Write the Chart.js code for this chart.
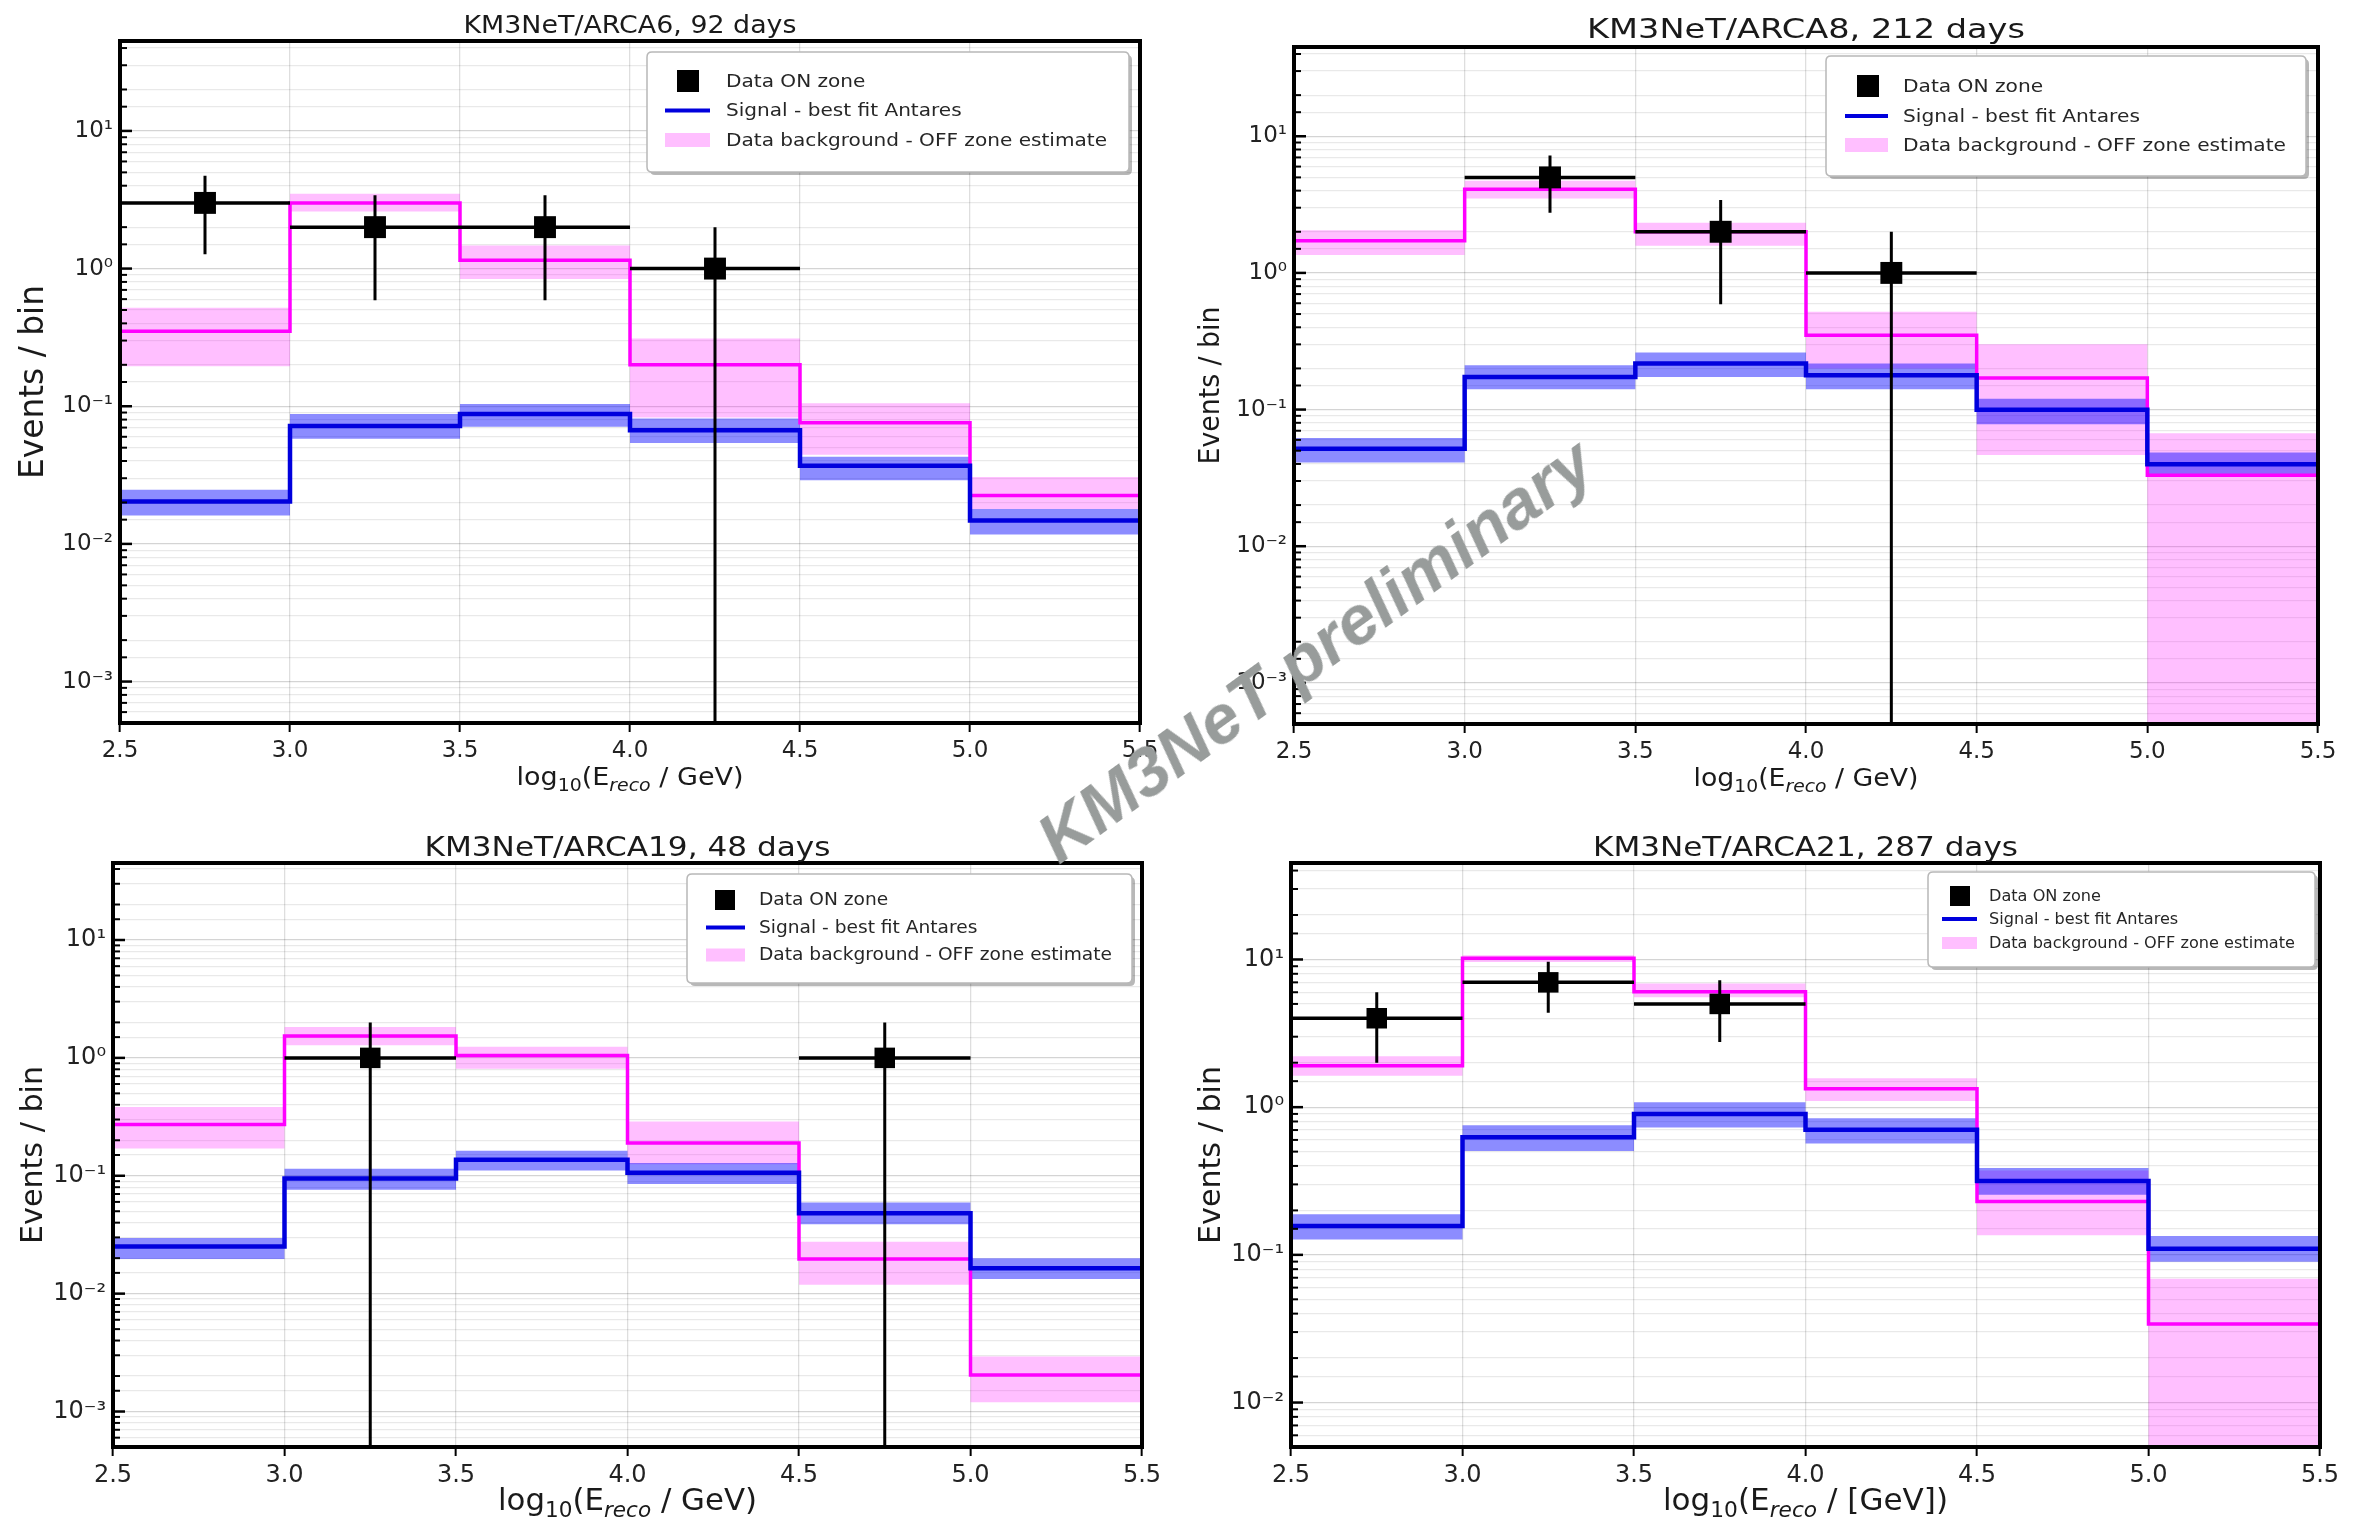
<!DOCTYPE html>
<html><head><meta charset="utf-8">
<script src="https://cdn.jsdelivr.net/npm/chart.js@4.4.1/dist/chart.umd.min.js"></script>
<style>
html,body{margin:0;padding:0;background:#fff;}
#wrap{position:relative;width:2356px;height:1523px;overflow:hidden;background:#fff;}
#wrap canvas{position:absolute;left:0;top:0;}
#wm{position:absolute;left:1315px;top:650px;transform:translate(-50%,-50%) rotate(-36deg);font:italic bold 69px "Liberation Sans", Arial, sans-serif;color:#989c9b;white-space:nowrap;pointer-events:none;z-index:10;}
</style></head><body>
<div id="wrap">
<canvas id="c1" width="2356" height="1523"></canvas>
<canvas id="c2" width="2356" height="1523"></canvas>
<canvas id="c3" width="2356" height="1523"></canvas>
<canvas id="c4" width="2356" height="1523"></canvas>
<div id="wm">KM3NeT preliminary</div>
</div>
<script>
// ---------------- DATA ----------------
const EDGES = [2.5, 3.0, 3.5, 4.0, 4.5, 5.0, 5.5];
const X_TICKS = [2.5, 3.0, 3.5, 4.0, 4.5, 5.0, 5.5];
const TITLES = ['KM3NeT/ARCA6, 92 days', 'KM3NeT/ARCA8, 212 days', 'KM3NeT/ARCA19, 48 days', 'KM3NeT/ARCA21, 287 days'];
const LEGEND_LABELS = ['Data ON zone', 'Signal - best fit Antares', 'Data background - OFF zone estimate'];
const FLOOR = 1e-9; // below axis (error bar / band reaching zero)

// ARCA6
const bg1   = [0.35, 3.0, 1.15, 0.20, 0.076, 0.0225];
const bg1Lo = [0.195, 2.6, 0.84, 0.083, 0.0445, 0.0179];
const bg1Hi = [0.52, 3.5, 1.47, 0.31, 0.105, 0.0306];
const sig1   = [0.0203, 0.072, 0.088, 0.067, 0.037, 0.0148];
const sig1Lo = [0.0161, 0.058, 0.071, 0.054, 0.029, 0.0117];
const sig1Hi = [0.0247, 0.088, 0.104, 0.0815, 0.043, 0.0179];
const on1X = [2.75, 3.25, 3.75, 4.25];
const on1  = [3, 2, 2, 1];
const on1Err = [1.73, 1.41, 1.41, 1.0];

// ARCA8
const bg2   = [1.72, 4.09, 2.0, 0.35, 0.17, 0.033];
const bg2Lo = [1.35, 3.5, 1.58, 0.2, 0.0466, FLOOR];
const bg2Hi = [2.05, 4.73, 2.33, 0.52, 0.30, 0.067];
const sig2   = [0.0516, 0.173, 0.217, 0.178, 0.0995, 0.0398];
const sig2Lo = [0.041, 0.141, 0.173, 0.141, 0.078, 0.0335];
const sig2Hi = [0.062, 0.211, 0.262, 0.217, 0.12, 0.0486];
const on2X = [3.25, 3.75, 4.25];
const on2  = [5, 2, 1];
const on2Err = [2.24, 1.41, 1.0];

// ARCA19
const bg3   = [0.272, 1.53, 1.05, 0.19, 0.0197, 0.00204];
const bg3Lo = [0.17, 1.28, 0.81, 0.125, 0.0119, 0.0012];
const bg3Hi = [0.384, 1.83, 1.24, 0.288, 0.0275, 0.00293];
const sig3   = [0.0251, 0.0947, 0.137, 0.106, 0.048, 0.0164];
const sig3Lo = [0.0197, 0.0762, 0.111, 0.085, 0.0387, 0.0133];
const sig3Hi = [0.0296, 0.1145, 0.163, 0.128, 0.0593, 0.020];
const on3X = [3.25, 4.75];
const on3  = [1, 1];
const on3Err = [1.0, 1.0];

// ARCA21
const bg4   = [1.91, 10.2, 6.04, 1.33, 0.23, 0.034];
const bg4Lo = [1.63, 9.6, 5.54, 1.1, 0.136, FLOOR];
const bg4Hi = [2.21, 10.7, 6.88, 1.57, 0.373, 0.0688];
const sig4   = [0.157, 0.626, 0.898, 0.703, 0.316, 0.11];
const sig4Lo = [0.127, 0.505, 0.729, 0.567, 0.255, 0.0898];
const sig4Hi = [0.188, 0.755, 1.08, 0.841, 0.387, 0.134];
const on4X = [2.75, 3.25, 3.75];
const on4  = [4, 7, 5];
const on4Err = [2.0, 2.65, 2.24];

// ---------------- STYLE ----------------
const SANS = '"DejaVu Sans", "Liberation Sans", sans-serif';
const COL_BG_LINE = '#ff00ff';
const COL_BG_BAND = 'rgba(255,0,255,0.25)';
const COL_SIG_LINE = '#0000dd';
const COL_SIG_BAND = 'rgba(0,0,255,0.45)';
const W = 2356, H = 1523, YW = 100, XH = 60;
const HALF = (EDGES[1] - EDGES[0]) / 2;

function steps(vals) { return EDGES.map((x, i) => ({x: x, y: vals[Math.min(i, vals.length - 1)]})); }
function hbars(xs, ys) { const o = []; xs.forEach((c, i) => { o.push({x: c - HALF, y: ys[i]}, {x: c + HALF, y: ys[i]}, {x: c + HALF, y: null}); }); return o; }
function vbars(xs, ys, es) { const o = []; xs.forEach((c, i) => { const lo = ys[i] - es[i]; o.push({x: c, y: lo > 0 ? lo : FLOOR}, {x: c, y: ys[i] + es[i]}, {x: c, y: null}); }); return o; }
function isDecade(v) { const l = Math.log10(v); return Math.abs(l - Math.round(l)) < 1e-6; }
const SUP = {'-': '\u207B', '0': '\u2070', '1': '\u00B9', '2': '\u00B2', '3': '\u00B3', '4': '\u2074'};
function supLabel(v) { const e = String(Math.round(Math.log10(v))); return '10' + e.split('').map(ch => SUP[ch]).join(''); }

const PANELS = [
  {id: 'c1', area: [120, 41, 1140, 723], min: 5e-4, max: 45,
   bg: bg1, bgLo: bg1Lo, bgHi: bg1Hi, sig: sig1, sigLo: sig1Lo, sigHi: sig1Hi, onX: on1X, on: on1, onErr: on1Err,
   title: {t: TITLES[0], base: 33, w: 333, size: 25}, ylab: {cx: 34, size: 33, len: 194},
   xlab: {base: 785, w: 227, size: 25, unit: 'GeV'}, xtick: 23, ytick: 23, mr: 15.5,
   leg: {x0: 647, y0: 52, x1: 1129, y1: 172, mx: 688, ms: 22, lx0: 665, lx1: 710, ph: 14, tx: 726, rows: [81, 110.5, 140], size: 18.5, w3: 381}},
  {id: 'c2', area: [1294, 47, 2318, 724], min: 5e-4, max: 45,
   bg: bg2, bgLo: bg2Lo, bgHi: bg2Hi, sig: sig2, sigLo: sig2Lo, sigHi: sig2Hi, onX: on2X, on: on2, onErr: on2Err,
   title: {t: TITLES[1], base: 38, w: 438, size: 26}, ylab: {cx: 1212, size: 28, len: 158},
   xlab: {base: 786, w: 225, size: 25, unit: 'GeV'}, xtick: 23, ytick: 23, mr: 15.5,
   leg: {x0: 1826, y0: 56, x1: 2306, y1: 176, mx: 1868, ms: 22, lx0: 1845, lx1: 1888, ph: 14, tx: 1903, rows: [86, 116, 145], size: 18.5, w3: 383}},
  {id: 'c3', area: [113, 863, 1142, 1447], min: 5e-4, max: 45,
   bg: bg3, bgLo: bg3Lo, bgHi: bg3Hi, sig: sig3, sigLo: sig3Lo, sigHi: sig3Hi, onX: on3X, on: on3, onErr: on3Err,
   title: {t: TITLES[2], base: 856, w: 406, size: 27}, ylab: {cx: 34, size: 30, len: 178},
   xlab: {base: 1510, w: 259, size: 30, unit: 'GeV'}, xtick: 24, ytick: 24, mr: 14.5,
   leg: {x0: 687, y0: 874, x1: 1132, y1: 983, mx: 725, ms: 20, lx0: 706, lx1: 745, ph: 13, tx: 759, rows: [900, 927.5, 955], size: 17, w3: 353}},
  {id: 'c4', area: [1291, 863, 2320, 1447], min: 5e-3, max: 45,
   bg: bg4, bgLo: bg4Lo, bgHi: bg4Hi, sig: sig4, sigLo: sig4Lo, sigHi: sig4Hi, onX: on4X, on: on4, onErr: on4Err,
   title: {t: TITLES[3], base: 856, w: 425, size: 27}, ylab: {cx: 1212, size: 30, len: 178},
   xlab: {base: 1510, w: 285, size: 30, unit: '[GeV]'}, xtick: 24, ytick: 24, mr: 14.5,
   leg: {x0: 1928, y0: 872, x1: 2315, y1: 967, mx: 1960, ms: 20, lx0: 1942, lx1: 1977, ph: 12, tx: 1989, rows: [896, 919, 943], size: 15, w3: 306}}
];

// ---------------- DRAW HELPERS ----------------
function drawFit(ctx, txt, x, y, w, align) {
  const m = ctx.measureText(txt).width;
  ctx.save(); ctx.translate(x, y); ctx.scale(w / m, 1);
  ctx.textAlign = align; ctx.fillText(txt, 0, 0); ctx.restore();
}
function roundRect(ctx, x, y, w, h, r) {
  ctx.beginPath();
  ctx.moveTo(x + r, y); ctx.lineTo(x + w - r, y); ctx.quadraticCurveTo(x + w, y, x + w, y + r);
  ctx.lineTo(x + w, y + h - r); ctx.quadraticCurveTo(x + w, y + h, x + w - r, y + h);
  ctx.lineTo(x + r, y + h); ctx.quadraticCurveTo(x, y + h, x, y + h - r);
  ctx.lineTo(x, y + r); ctx.quadraticCurveTo(x, y, x + r, y); ctx.closePath();
}
function drawXLabel(ctx, cx, base, size, w, unit) {
  const parts = [
    {t: 'log', f: size + 'px ' + SANS, dy: 0},
    {t: '10', f: (size * 0.7) + 'px ' + SANS, dy: size * 0.22},
    {t: '(E', f: size + 'px ' + SANS, dy: 0},
    {t: 'reco', f: 'italic ' + (size * 0.7) + 'px ' + SANS, dy: size * 0.22},
    {t: ' / ' + unit + ')', f: size + 'px ' + SANS, dy: 0}
  ];
  let tot = 0;
  parts.forEach(p => { ctx.font = p.f; p.w = ctx.measureText(p.t).width; tot += p.w; });
  ctx.save(); ctx.translate(cx - w / 2, base); ctx.scale(w / tot, 1);
  ctx.textAlign = 'left'; ctx.textBaseline = 'alphabetic';
  let x = 0;
  parts.forEach(p => { ctx.font = p.f; ctx.fillText(p.t, x, p.dy); x += p.w; });
  ctx.restore();
}
function drawLegend(ctx, L) {
  ctx.save();
  ctx.fillStyle = 'rgba(0,0,0,0.28)';
  roundRect(ctx, L.x0 + 3, L.y0 + 3, L.x1 - L.x0, L.y1 - L.y0, 5); ctx.fill();
  ctx.fillStyle = '#ffffff';
  roundRect(ctx, L.x0, L.y0, L.x1 - L.x0, L.y1 - L.y0, 5); ctx.fill();
  ctx.strokeStyle = '#b8b8b8'; ctx.lineWidth = 1.5; ctx.stroke();
  ctx.fillStyle = '#000';
  ctx.fillRect(L.mx - L.ms / 2, L.rows[0] - L.ms / 2, L.ms, L.ms);
  ctx.strokeStyle = COL_SIG_LINE; ctx.lineWidth = 4;
  ctx.beginPath(); ctx.moveTo(L.lx0, L.rows[1]); ctx.lineTo(L.lx1, L.rows[1]); ctx.stroke();
  ctx.fillStyle = COL_BG_BAND;
  ctx.fillRect(L.lx0, L.rows[2] - L.ph / 2, L.lx1 - L.lx0, L.ph);
  ctx.font = L.size + 'px ' + SANS; ctx.fillStyle = '#262626'; ctx.textBaseline = 'middle';
  const s = L.w3 / ctx.measureText(LEGEND_LABELS[2]).width;
  LEGEND_LABELS.forEach((t, i) => {
    ctx.save(); ctx.translate(L.tx, L.rows[i] + 1); ctx.scale(s, 1); ctx.textAlign = 'left'; ctx.fillText(t, 0, 0); ctx.restore();
  });
  ctx.restore();
}

const decoPlugin = {
  id: 'deco',
  afterDraw(chart) {
    const p = chart.options.plugins.deco.panel;
    const ctx = chart.ctx, a = chart.chartArea, ys = chart.scales.y;
    ctx.save();
    // inner y tick marks
    ctx.strokeStyle = '#000';
    ys.ticks.forEach(t => {
      const v = t.value; if (v < ys.min || v > ys.max) return;
      const y = ys.getPixelForValue(v), maj = isDecade(v);
      ctx.lineWidth = maj ? 2.5 : 2;
      ctx.beginPath(); ctx.moveTo(a.left, y); ctx.lineTo(a.left + (maj ? 12 : 7), y); ctx.stroke();
    });
    // frame
    ctx.lineWidth = 4; ctx.strokeStyle = '#000';
    ctx.strokeRect(a.left, a.top, a.right - a.left, a.bottom - a.top);
    // legend
    drawLegend(ctx, p.leg);
    // title
    ctx.fillStyle = '#1a1a1a'; ctx.textBaseline = 'alphabetic';
    ctx.font = p.title.size + 'px ' + SANS;
    drawFit(ctx, p.title.t, (a.left + a.right) / 2, p.title.base, p.title.w, 'center');
    // y label
    ctx.save();
    ctx.translate(p.ylab.cx, (a.top + a.bottom) / 2); ctx.rotate(-Math.PI / 2);
    ctx.font = p.ylab.size + 'px ' + SANS; ctx.textBaseline = 'middle';
    drawFit(ctx, 'Events / bin', 0, 0, p.ylab.len, 'center');
    ctx.restore();
    // x label
    ctx.fillStyle = '#1a1a1a';
    drawXLabel(ctx, (a.left + a.right) / 2, p.xlab.base, p.xlab.size, p.xlab.w, p.xlab.unit);
    ctx.restore();
  }
};

function lineDs(data, color, width) {
  return {data: data, borderColor: color, borderWidth: width, stepped: 'before', pointRadius: 0, pointHoverRadius: 0, fill: false, spanGaps: false};
}
function bandDs(data, fillColor, isHi) {
  return {data: data, borderColor: 'rgba(0,0,0,0)', borderWidth: 0, stepped: 'before', pointRadius: 0, pointHoverRadius: 0,
          fill: isHi ? '-1' : false, backgroundColor: fillColor};
}

PANELS.forEach(p => {
  const a = p.area;
  const datasets = [
    {data: p.onX.map((x, i) => ({x: x, y: p.on[i]})), showLine: false, pointStyle: 'rect', pointRadius: p.mr, pointHoverRadius: p.mr,
     pointBackgroundColor: '#000', pointBorderColor: '#000', pointBorderWidth: 0},
    {data: hbars(p.onX, p.on), borderColor: '#000', borderWidth: 3.5, pointRadius: 0, spanGaps: false, fill: false},
    {data: vbars(p.onX, p.on, p.onErr), borderColor: '#000', borderWidth: 3, pointRadius: 0, spanGaps: false, fill: false},
    lineDs(steps(p.sig), COL_SIG_LINE, 4.5),
    lineDs(steps(p.bg), COL_BG_LINE, 3.5),
    bandDs(steps(p.sigLo), COL_SIG_BAND, false),
    bandDs(steps(p.sigHi), COL_SIG_BAND, true),
    bandDs(steps(p.bgLo), COL_BG_BAND, false),
    bandDs(steps(p.bgHi), COL_BG_BAND, true)
  ];
  new Chart(document.getElementById(p.id), {
    type: 'line',
    data: {datasets: datasets},
    plugins: [decoPlugin],
    options: {
      responsive: false, animation: false, devicePixelRatio: 1, events: [],
      layout: {padding: {left: a[0] - YW, top: a[1], right: W - a[2], bottom: H - a[3] - XH}},
      plugins: {legend: {display: false}, tooltip: {enabled: false}, title: {display: false}, deco: {panel: p}},
      scales: {
        x: {type: 'linear', min: X_TICKS[0], max: X_TICKS[X_TICKS.length - 1],
            afterFit(s) { s.height = XH; }, border: {display: false},
            afterBuildTicks(s) { s.ticks = X_TICKS.map(v => ({value: v})); },
            grid: {color: 'rgba(0,0,0,0.13)', lineWidth: 1.3, drawTicks: true, tickLength: 9, tickColor: '#000', tickWidth: 2},
            ticks: {autoSkip: false, maxRotation: 0, padding: 5, color: '#222', font: {family: SANS, size: p.xtick},
                    callback: v => Number(v).toFixed(1)}},
        y: {type: 'logarithmic', min: p.min, max: p.max,
            afterFit(s) { s.width = YW; }, border: {display: false},
            grid: {color: c => (c.tick && isDecade(c.tick.value)) ? 'rgba(0,0,0,0.17)' : 'rgba(0,0,0,0.085)', lineWidth: 1.2, drawTicks: false},
            ticks: {autoSkip: false, padding: 7, color: '#222', font: {family: SANS, size: p.ytick},
                    callback: v => isDecade(v) ? supLabel(v) : ''}}
      }
    }
  });
});
</script>
</body></html>
